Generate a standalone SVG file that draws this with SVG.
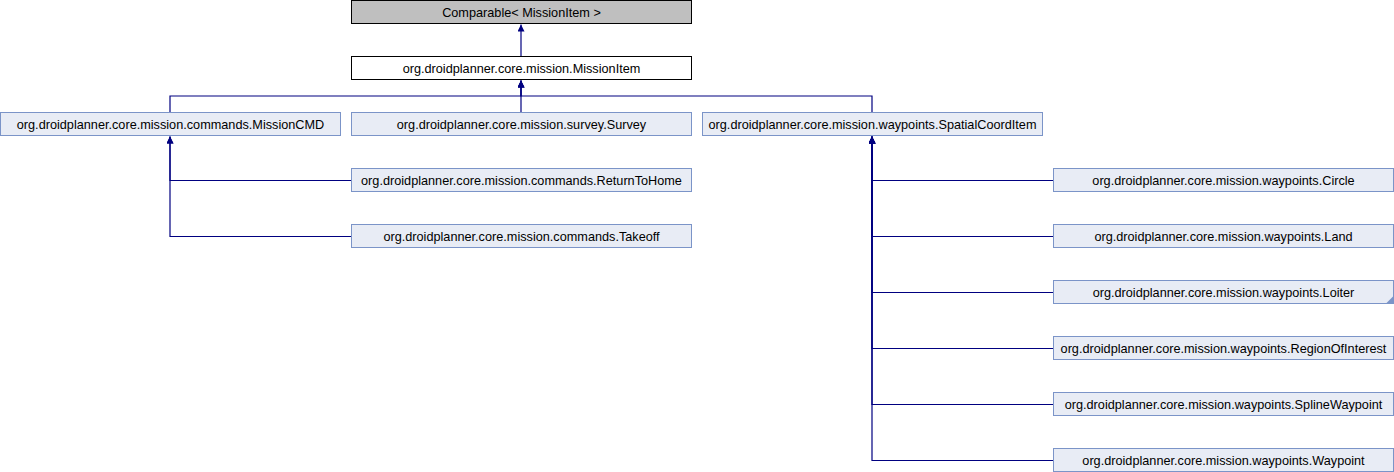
<svg xmlns="http://www.w3.org/2000/svg" width="1394" height="472" viewBox="0 0 1394 472">
<style>
.n rect{fill:#e8ecf5;stroke:#7b94c8;stroke-width:1}
.n text{font-family:"Liberation Sans",Arial,sans-serif;font-size:12.7px;fill:#000;text-anchor:middle}
.e path{fill:none;stroke:#000080;stroke-width:1.2;marker-end:url(#arr)}
</style>
<defs>
<marker id="arr" viewBox="0 0 10 10" refX="10" refY="5" markerWidth="7" markerHeight="7" markerUnits="userSpaceOnUse" orient="auto">
<path d="M0,0 L10,5 L0,10 z" fill="#000080"/>
</marker>
</defs>
<g id="connectors" class="e">
<path d="M521,56 V24.5"/>
<path d="M521,112 V80.5"/>
<path d="M170,112 V96 H521 V80.5"/>
<path d="M872,112 V96 H521 V80.5"/>
<path d="M351,180.5 H170 V136.5"/>
<path d="M351,236.5 H170 V136.5"/>
<path d="M1053,180.5 H872 V136.5"/>
<path d="M1053,236.5 H872 V136.5"/>
<path d="M1053,292.5 H872 V136.5"/>
<path d="M1053,348.5 H872 V136.5"/>
<path d="M1053,404.5 H872 V136.5"/>
<path d="M1053,460.5 H872 V136.5"/>
</g>
<g id="comparable" class="n"><rect x="351.5" y="0.5" width="340" height="23" style="fill:#bfbfbf;stroke:#000"/><text x="521.5" y="16.5">Comparable&lt; MissionItem &gt;</text></g>
<g id="missionitem" class="n"><rect x="351.5" y="56.5" width="340" height="23" style="fill:#fff;stroke:#000"/><text x="521.5" y="72.5">org.droidplanner.core.mission.MissionItem</text></g>
<g id="missioncmd" class="n"><rect x="0.5" y="112.5" width="340" height="23"/><text x="170.5" y="128.5">org.droidplanner.core.mission.commands.MissionCMD</text></g>
<g id="survey" class="n"><rect x="351.5" y="112.5" width="340" height="23"/><text x="521.5" y="128.5">org.droidplanner.core.mission.survey.Survey</text></g>
<g id="spatialcoorditem" class="n"><rect x="702.5" y="112.5" width="340" height="23"/><text x="872.5" y="128.5">org.droidplanner.core.mission.waypoints.SpatialCoordItem</text></g>
<g id="returntohome" class="n"><rect x="351.5" y="168.5" width="340" height="23"/><text x="521.5" y="184.5">org.droidplanner.core.mission.commands.ReturnToHome</text></g>
<g id="takeoff" class="n"><rect x="351.5" y="224.5" width="340" height="23"/><text x="521.5" y="240.5">org.droidplanner.core.mission.commands.Takeoff</text></g>
<g id="circle" class="n"><rect x="1053.5" y="168.5" width="340" height="23"/><text x="1223.5" y="184.5">org.droidplanner.core.mission.waypoints.Circle</text></g>
<g id="land" class="n"><rect x="1053.5" y="224.5" width="340" height="23"/><text x="1223.5" y="240.5">org.droidplanner.core.mission.waypoints.Land</text></g>
<g id="loiter" class="n"><rect x="1053.5" y="280.5" width="340" height="23"/><polygon points="1393.5,296 1393.5,303.5 1386,303.5" fill="#7b94c8"/><text x="1223.5" y="296.5">org.droidplanner.core.mission.waypoints.Loiter</text></g>
<g id="regionofinterest" class="n"><rect x="1053.5" y="336.5" width="340" height="23"/><text x="1223.5" y="352.5">org.droidplanner.core.mission.waypoints.RegionOfInterest</text></g>
<g id="splinewaypoint" class="n"><rect x="1053.5" y="392.5" width="340" height="23"/><text x="1223.5" y="408.5">org.droidplanner.core.mission.waypoints.SplineWaypoint</text></g>
<g id="waypoint" class="n"><rect x="1053.5" y="448.5" width="340" height="23"/><text x="1223.5" y="464.5">org.droidplanner.core.mission.waypoints.Waypoint</text></g>
</svg>
